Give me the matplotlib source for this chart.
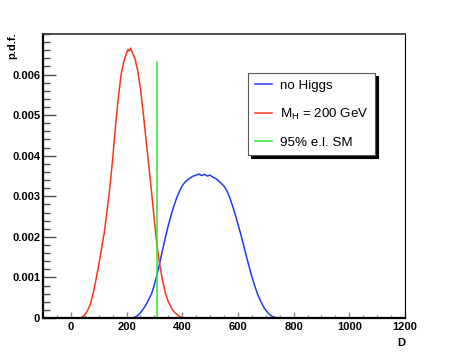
import matplotlib
matplotlib.use('Agg')
import matplotlib.pyplot as plt
from matplotlib.ticker import MultipleLocator

plt.rcParams['font.family'] = ['Liberation Sans', 'DejaVu Sans']
plt.rcParams['mathtext.default'] = 'regular'

# no Higgs (blue)
d_nohiggs = [-100, 210, 220, 230, 240, 250, 260, 270, 280, 290, 300, 310, 320, 330, 340,
             350, 360, 370, 380, 390, 400, 410, 420, 430, 440, 450, 460, 470, 480, 490,
             500, 510, 520, 530, 540, 550, 560, 570, 580, 590, 600, 610, 620, 630, 640,
             650, 660, 670, 680, 690, 700, 710, 720, 730, 740, 750, 1200]
p_nohiggs = [0, 0, 0, 0.00002, 0.00006, 0.00013, 0.00022, 0.00033, 0.00046, 0.00060,
             0.00082, 0.00108, 0.00138, 0.00170, 0.00200, 0.00228, 0.00253, 0.00276,
             0.00296, 0.00312, 0.00326, 0.00335, 0.00341, 0.00346, 0.00350, 0.00352,
             0.00355, 0.00351, 0.00354, 0.00350, 0.00352, 0.00347, 0.00344, 0.00338,
             0.00332, 0.00325, 0.00314, 0.00298, 0.00278, 0.00256, 0.00232, 0.00207,
             0.00180, 0.00153, 0.00127, 0.00102, 0.00080, 0.00060, 0.00044, 0.00030,
             0.00019, 0.00011, 0.00005, 0.00002, 0.00001, 0, 0]

# M_H = 200 GeV (red)
d_higgs = [30, 40, 50, 60, 70, 80, 90, 100, 110, 120, 130, 140, 150, 160, 170, 180, 190,
           200, 205, 210, 215, 220, 230, 240, 250, 260, 270, 280, 290, 300, 310, 320,
           330, 340, 350, 360, 370, 380, 390, 400, 410, 740]
p_higgs = [0, 0.00002, 0.00008, 0.00018, 0.00034, 0.00060, 0.00094, 0.00130, 0.00170,
           0.00210, 0.00265, 0.00322, 0.00390, 0.00470, 0.00540, 0.00598, 0.00632,
           0.00652, 0.00662, 0.00658, 0.00665, 0.00655, 0.00640, 0.00610, 0.00565,
           0.00505, 0.00440, 0.00375, 0.00310, 0.00240, 0.00175, 0.00128, 0.00090,
           0.00060, 0.00040, 0.00026, 0.00016, 0.00009, 0.00004, 0.00001, 0, 0]

# 95% e.l. SM cut
cut_d = 310
cut_height = 0.0063

y_ticks = [0, 0.001, 0.002, 0.003, 0.004, 0.005, 0.006]
y_labels = ['0', '0.001', '0.002', '0.003', '0.004', '0.005', '0.006']
x_ticks = [0, 200, 400, 600, 800, 1000, 1200]

fig = plt.figure(figsize=(4.52, 3.54), dpi=100)
ax = fig.add_axes([43 / 452, 36 / 354, 362 / 452, 284 / 354])

ax.plot(d_nohiggs, p_nohiggs, color='#1f3cf2', lw=1.1, label='no Higgs')
ax.plot(d_higgs, p_higgs, color='#f7361c', lw=1.1, label='M$_H$ = 200 GeV')
ax.plot([cut_d, cut_d], [0, cut_height], color='#2ee82e', lw=1.1, label='95% e.l. SM')

ax.set_xlim(-100, 1200)
ax.set_ylim(0, 0.007)

ax.set_yticks(y_ticks)
ax.set_yticklabels(y_labels)
ax.set_xticks(x_ticks)
ax.yaxis.set_minor_locator(MultipleLocator(0.0002))
ax.xaxis.set_minor_locator(MultipleLocator(50))

ax.tick_params(axis='y', which='major', direction='in', length=9, width=1, pad=2,
               labelsize=8, color='0.3')
ax.tick_params(axis='y', which='minor', direction='in', length=5, width=1, color='0.3')
ax.tick_params(axis='x', which='major', direction='in', length=4, width=1, pad=3,
               labelsize=8, color='0.55')
ax.tick_params(axis='x', which='minor', direction='in', length=2.5, width=1, color='0.55')
for lab in ax.get_xticklabels() + ax.get_yticklabels():
    lab.set_fontweight('bold')

ax.spines['left'].set_linewidth(1.6)
ax.spines['bottom'].set_linewidth(1.6)
ax.spines['top'].set_linewidth(1.3)
ax.spines['top'].set_color('0.25')
ax.spines['right'].set_linewidth(0.8)

fig.text(12.5 / 452, 1 - 32 / 354, 'p.d.f.', rotation=90, ha='center', va='top',
         fontsize=8, fontweight='bold')
fig.text(405 / 452, 1 - 348 / 354, 'D', ha='right', va='bottom',
         fontsize=8, fontweight='bold')

leg = ax.legend(loc='upper left', bbox_to_anchor=(248 / 452, 1 - 73 / 354),
                bbox_transform=fig.transFigure, borderaxespad=0, fontsize=9.6,
                fancybox=False, framealpha=1, edgecolor='0.35',
                shadow={'color': 'black', 'alpha': 1},
                handlelength=1.3, handletextpad=0.6, labelspacing=1.1,
                borderpad=0.5)
leg.get_frame().set_linewidth(0.8)

fig.savefig('out.png', dpi=100)
